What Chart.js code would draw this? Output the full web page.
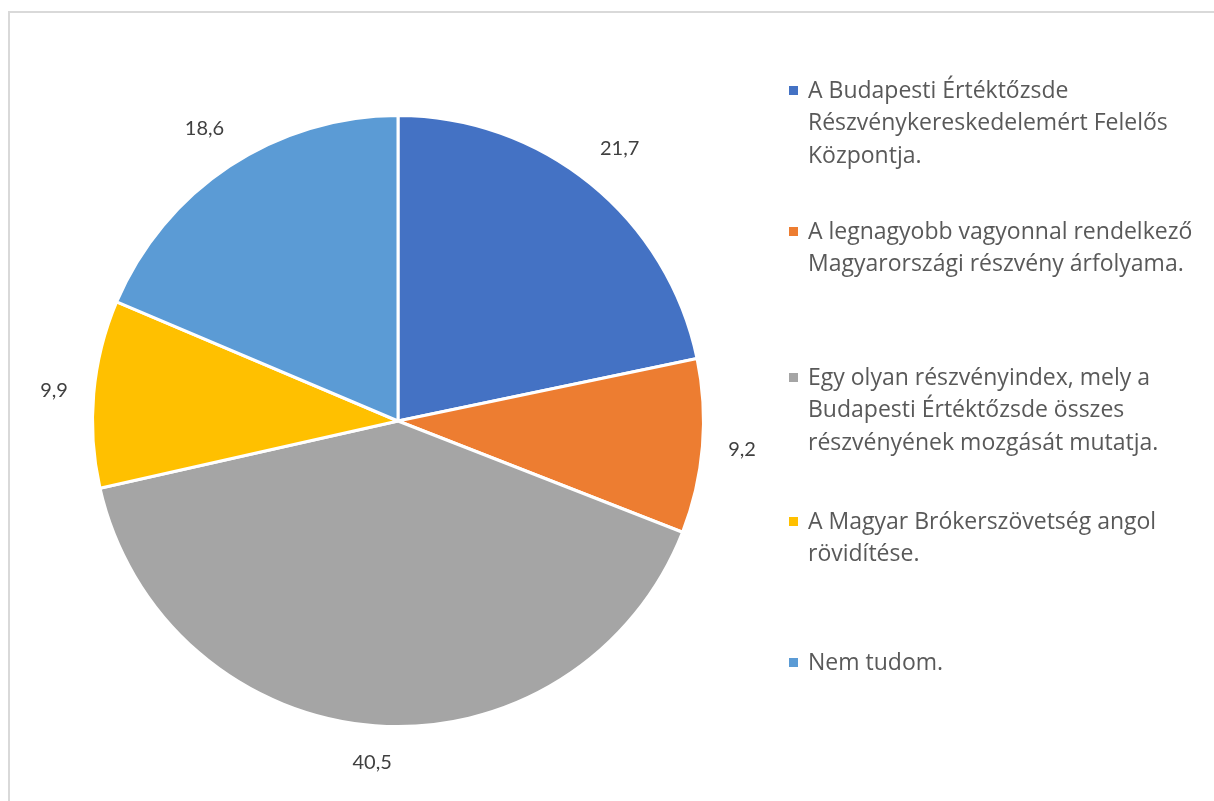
<!DOCTYPE html>
<html>
<head>
<meta charset="utf-8">
<script src="https://cdn.jsdelivr.net/npm/chart.js@4.4.1/dist/chart.umd.min.js"></script>
<style>
  body { margin: 0; background: #fff; overflow: hidden; }
  #wrap { position: relative; width: 1214px; height: 801px; }
  #frame { position: absolute; left: 8px; top: 11px; width: 1220px; height: 800px; border: 2px solid #d9d9d9; box-sizing: border-box; }
  canvas { position: absolute; left: 0; top: 0; }
</style>
</head>
<body>
<div id="wrap">
  <div id="frame"></div>
  <canvas id="myChart" width="1214" height="801"></canvas>
</div>
<script>
// categories (legend text, split into lines as in the picture)
const categories = [
  ['A Budapesti Értéktőzsde', 'Részvénykereskedelemért Felelős', 'Központja.'],
  ['A legnagyobb vagyonnal rendelkező', 'Magyarországi részvény árfolyama.'],
  ['Egy olyan részvényindex, mely a', 'Budapesti Értéktőzsde összes', 'részvényének mozgását mutatja.'],
  ['A Magyar Brókerszövetség angol', 'rövidítése.'],
  ['Nem tudom.']
];
const values = [21.7, 9.2, 40.5, 9.9, 18.6];
const colors = ['#4472C4', '#ED7D31', '#A5A5A5', '#FFC000', '#5B9BD5'];
const legendTops = [91, 232, 378, 522, 663]; // y of first line of each legend item

const fmt = v => v.toFixed(1).replace('.', ',');

// value labels outside each slice
const outsideLabels = {
  id: 'outsideLabels',
  afterDatasetsDraw(chart) {
    const ctx = chart.ctx;
    const meta = chart.getDatasetMeta(0);
    ctx.save();
    ctx.font = '20px Lato';
    ctx.fillStyle = '#404040';
    ctx.textAlign = 'center';
    ctx.textBaseline = 'middle';
    meta.data.forEach((arc, i) => {
      const p = arc.getProps(['x', 'y', 'startAngle', 'endAngle', 'outerRadius'], true);
      const mid = (p.startAngle + p.endAngle) / 2;
      const txt = fmt(values[i]);
      const hw = ctx.measureText(txt).width / 2, hh = 11;
      const d = p.outerRadius + 25 + hw * Math.abs(Math.cos(mid)) + hh * Math.abs(Math.sin(mid));
      ctx.fillText(txt, p.x + Math.cos(mid) * d, p.y + Math.sin(mid) * d);
    });
    ctx.restore();
  }
};

// legend on the right with wrapped lines
const sideLegend = {
  id: 'sideLegend',
  afterDraw(chart) {
    const ctx = chart.ctx;
    ctx.save();
    ctx.font = '23px "Open Sans"';
    ctx.textBaseline = 'middle';
    categories.forEach((lines, i) => {
      const y0 = legendTops[i];
      ctx.fillStyle = colors[i];
      ctx.fillRect(789, y0 - 5, 9, 9);
      ctx.fillStyle = '#595959';
      lines.forEach((line, j) => {
        ctx.fillText(line, 808, y0 + j * 32.5);
      });
    });
    ctx.restore();
  }
};

const ctx = document.getElementById('myChart').getContext('2d');
new Chart(ctx, {
  type: 'pie',
  data: {
    labels: categories.map(c => c.join(' ')),
    datasets: [{
      data: values,
      backgroundColor: colors,
      borderColor: '#ffffff',
      borderWidth: 3
    }]
  },
  options: {
    responsive: false,
    animation: false,
    layout: { padding: { left: 91, right: 509, top: 114, bottom: 73 } },
    plugins: {
      legend: { display: false },
      tooltip: { enabled: false }
    }
  },
  plugins: [outsideLabels, sideLegend]
});
</script>
</body>
</html>
